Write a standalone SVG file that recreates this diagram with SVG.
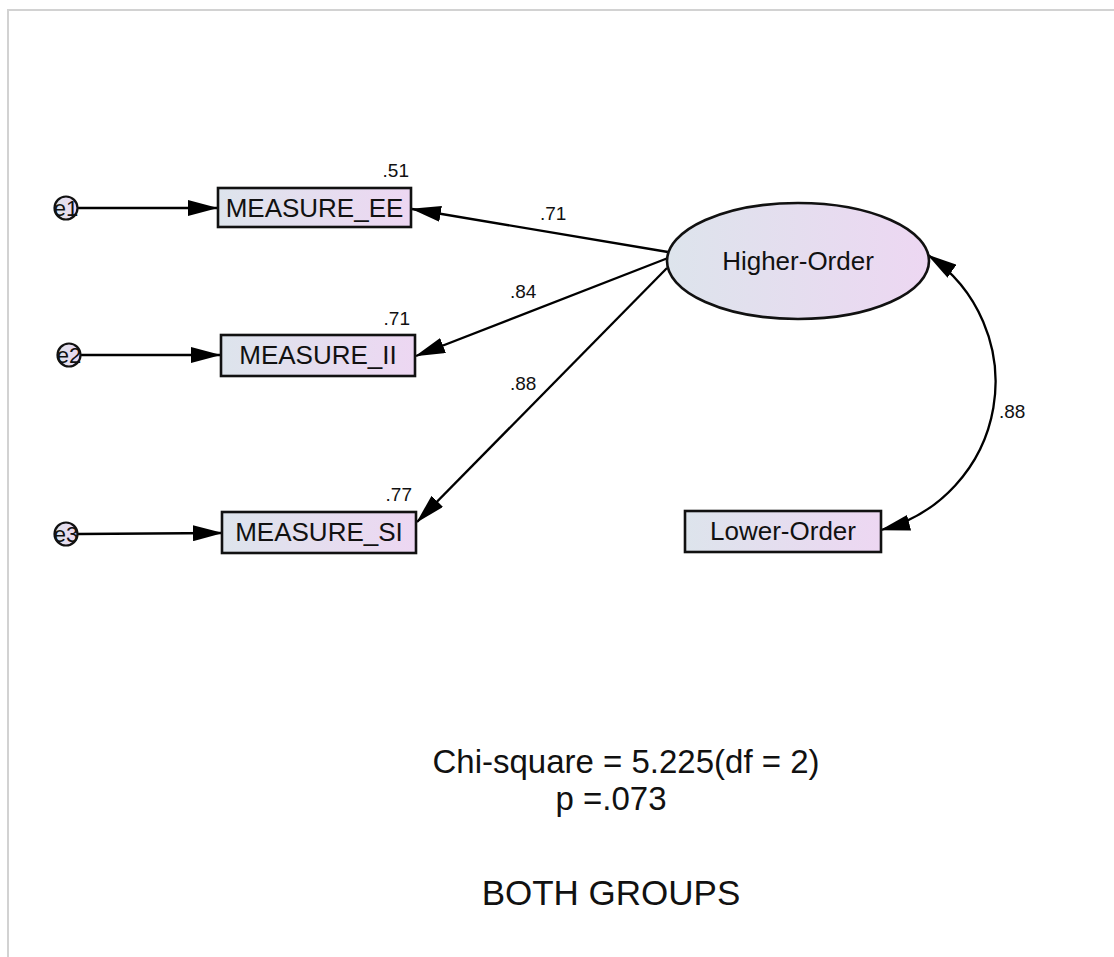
<svg xmlns="http://www.w3.org/2000/svg" width="1114" height="957" viewBox="0 0 1114 957">
<style>
.frame{stroke:#d2d2d2;stroke-width:2;fill:none}
.box{fill:url(#g);stroke:#111;stroke-width:2.6}
.err{fill:url(#g);stroke:#111;stroke-width:2.2}
.lbl{font-family:"Liberation Sans",Arial,sans-serif;fill:#111}
.node{font-size:26px;text-anchor:middle}
.enode{font-size:22px;text-anchor:middle}
.num{font-size:19px}
.big{font-size:33px;text-anchor:middle}
.edge{stroke:#000;stroke-width:2.3;fill:none;marker-end:url(#ah)}
</style>
<defs>
<linearGradient id="g" x1="0" y1="0" x2="1" y2="0">
<stop offset="0" stop-color="#dde4ec"/>
<stop offset="1" stop-color="#edd7f2"/>
</linearGradient>
<marker id="ah" markerUnits="userSpaceOnUse" markerWidth="30" markerHeight="16" viewBox="0 0 30 16" refX="29" refY="8" orient="auto-start-reverse">
<path d="M0,0 L30,8 L0,16 z" fill="#000"/>
</marker>
</defs>
<rect width="1114" height="957" fill="#fff"/>
<path class="frame" d="M8,957 V10 H1114"/>

<g id="connectors">
<line class="edge" x1="78" y1="208" x2="217" y2="208"/>
<line class="edge" x1="81" y1="355" x2="220" y2="355"/>
<line class="edge" x1="78" y1="534" x2="222" y2="533"/>
<line class="edge" x1="668" y1="252" x2="412" y2="209"/>
<line class="edge" x1="668" y1="258" x2="416" y2="356"/>
<line class="edge" x1="667" y1="268" x2="417" y2="522"/>
<path class="edge" style="marker-start:url(#ah)" d="M928,255 A153,153 0 0 1 881,530"/>
<text class="lbl num" x="540" y="220">.71</text>
<text class="lbl num" x="510" y="298">.84</text>
<text class="lbl num" x="510" y="390">.88</text>
<text class="lbl num" x="999" y="418">.88</text>
</g>

<g id="e1"><circle class="err" cx="66" cy="208" r="11.5"/><text class="lbl enode" x="66" y="216">e1</text></g>
<g id="e2"><circle class="err" cx="69" cy="355" r="11.5"/><text class="lbl enode" x="69" y="363">e2</text></g>
<g id="e3"><circle class="err" cx="66" cy="534" r="11.5"/><text class="lbl enode" x="66" y="542">e3</text></g>

<g id="measure_ee"><rect class="box" x="218" y="188" width="193" height="39"/><text class="lbl node" x="314.5" y="217">MEASURE_EE</text><text class="lbl num" x="409" y="177" text-anchor="end">.51</text></g>
<g id="measure_ii"><rect class="box" x="221" y="335" width="194" height="41"/><text class="lbl node" x="318" y="364">MEASURE_II</text><text class="lbl num" x="410" y="325" text-anchor="end">.71</text></g>
<g id="measure_si"><rect class="box" x="222" y="512" width="194" height="41"/><text class="lbl node" x="319" y="541">MEASURE_SI</text><text class="lbl num" x="412" y="501" text-anchor="end">.77</text></g>

<g id="higher_order"><ellipse class="box" cx="798" cy="261" rx="131" ry="58"/><text class="lbl node" x="798" y="270">Higher-Order</text></g>
<g id="lower_order"><rect class="box" x="685" y="511" width="196" height="41"/><text class="lbl node" x="783" y="540">Lower-Order</text></g>

<g id="stats"><text class="lbl big" x="626" y="773">Chi-square = 5.225(df = 2)</text><text class="lbl big" x="611" y="810">p =.073</text></g>
<g id="title"><text class="lbl big" x="611" y="905" style="font-size:35px">BOTH GROUPS</text></g>
</svg>
